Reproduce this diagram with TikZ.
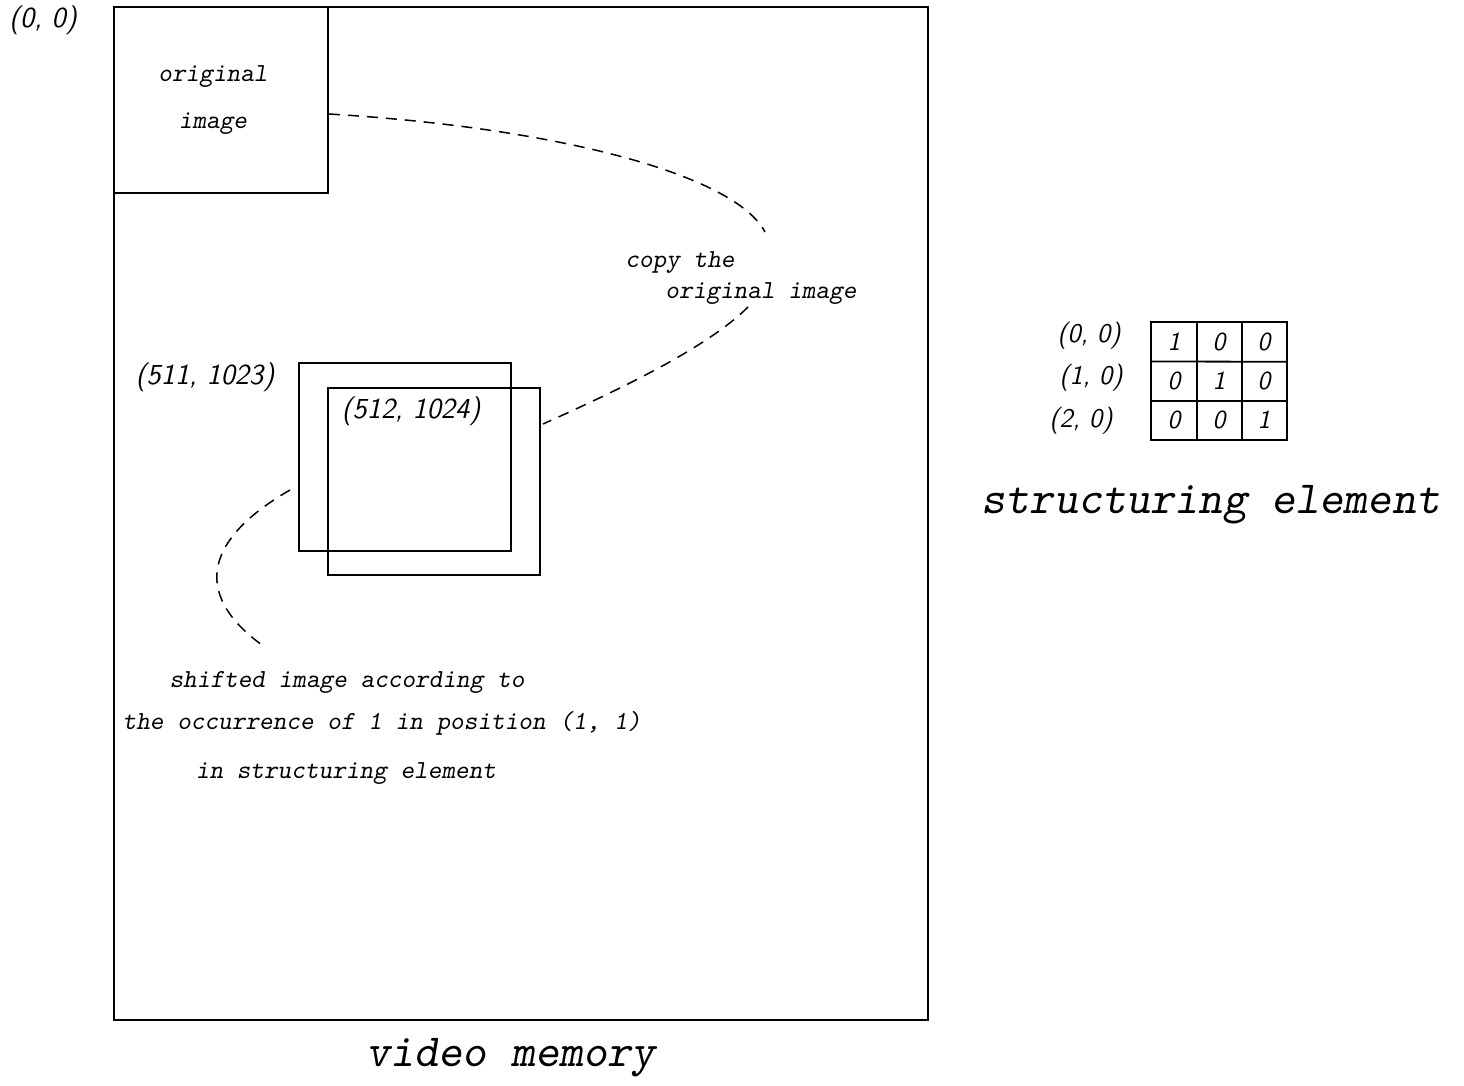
\documentclass[tikz,border=0pt]{standalone}
\usepackage{fontspec}
\usetikzlibrary{matrix}
\newcommand{\fs}[1]{\fontsize{#1}{1.2\dimexpr #1pt\relax}\selectfont}
\tikzset{
  boxline/.style={draw, line width=0.8pt, inner sep=0pt},
  labeltext/.style={font=\ttfamily\slshape\fs{13}, inner sep=0pt},
  coordtext/.style={font=\sffamily\itshape\fs{14.5}, inner sep=0pt},
  titletext/.style={font=\ttfamily\slshape\fs{23}, inner sep=0pt},
  leader/.style={line width=0.75pt, dash pattern=on 5.5pt off 4pt},
  gridline/.style={line width=0.9pt},
}
\begin{document}
\begin{tikzpicture}[x=0.5pt, y=-0.5pt]
\useasboundingbox (0,0) rectangle (1464,1086);

% video memory frame and the original image in its corner
\node[boxline, minimum width=407pt, minimum height=506.5pt] (frame) at (521,513.5) {};
\node[boxline, minimum width=107pt, minimum height=93pt] (orig) at (221,100) {};
\node[labeltext, align=center] (origtxt) at (213,100) {original\\[8pt]image};
\node[coordtext] (origin) at (43,20) {(0, 0)};

% the two overlapping copies
\node[boxline, minimum width=106pt, minimum height=94pt] (box1) at (405,457) {};
\node[boxline, minimum width=106pt, minimum height=93.5pt] (box2) at (434,481.5) {};
\node[coordtext] (c511) at (205,377) {(511, 1023)};
\node[coordtext] (c512) at (411,411) {(512, 1024)};

% captions
\node[labeltext] (copy1) at (680,263) {copy the};
\node[labeltext] (copy2) at (761,294) {original image};
\node[labeltext] (sh1) at (347,682) {shifted image according to};
\node[labeltext] (sh2) at (382,723) {the occurrence of 1 in position (1, 1)};
\node[labeltext] (sh3) at (346,774) {in structuring element};
\node[titletext] (vm) at (511,1058) {video memory};

% leader lines
\coordinate (o1) at (329,114);
\coordinate (o2) at (765,232);
\coordinate (o3) at (748,307);
\coordinate (o4) at (543,424);
\coordinate (s1) at (290,490);
\coordinate (s2) at (262,645);
\draw[leader] (o1) .. controls (560,128) and (735,175) .. (o2);
\draw[leader] (o3) .. controls (710,345) and (630,385) .. (o4);
\draw[leader] (s1) .. controls (195,545) and (200,600) .. (s2);

% structuring element: 3x3 grid of values
\matrix (se) at (1219,381) [matrix of nodes,
  nodes={minimum width=22.5pt, minimum height=19.5pt,
         inner sep=0pt, font=\sffamily\itshape\fs{13}},
  column sep=0pt, row sep=0pt] {
  1 & 0 & 0 \\
  0 & 1 & 0 \\
  0 & 0 & 1 \\
};
\draw[gridline] (se-1-1.north west) rectangle (se-3-3.south east);
\draw[gridline] (se-1-1.north east) -- (se-3-1.south east);
\draw[gridline] (se-1-2.north east) -- (se-3-2.south east);
\draw[gridline] (se-1-1.south west) -- (se-1-3.south east);
\draw[gridline] (se-2-1.south west) -- (se-2-3.south east);
\node[coordtext, font=\sffamily\itshape\fs{13.5}] (r0) at (1089,336) {(0, 0)};
\node[coordtext, font=\sffamily\itshape\fs{13.5}] (r1) at (1091,378) {(1, 0)};
\node[coordtext, font=\sffamily\itshape\fs{13.5}] (r2) at (1081,421) {(2, 0)};
\node[titletext] (setitle) at (1211,505) {structuring element};
\end{tikzpicture}
\end{document}
